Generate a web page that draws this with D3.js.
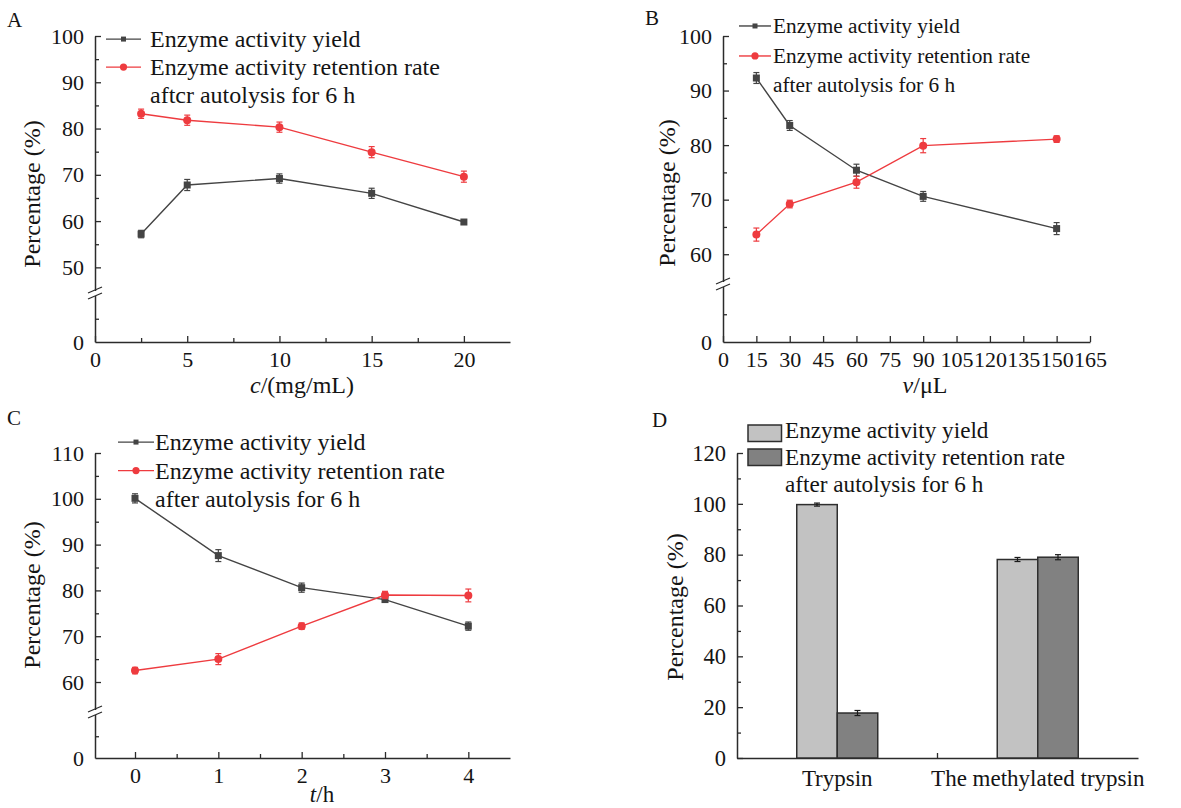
<!DOCTYPE html>
<html><head><meta charset="utf-8">
<script src="https://cdn.jsdelivr.net/npm/d3@7/dist/d3.min.js"></script>
<style>
body{margin:0;background:#fff}
text{font-family:"Liberation Serif","Times New Roman",serif;fill:#141414}
</style>
</head><body>
<svg id="chart" width="1181" height="808"></svg>
<script>
// ---------------- data ----------------
const seriesNames = ["Enzyme activity yield", "Enzyme activity retention rate"];

const aX = [2.5, 5, 10, 15, 20];
const aYield = [57.2, 67.8, 69.2, 66.0, 59.8];
const aYieldErr = [0.8, 1.2, 1.0, 1.1, 0.4];
const aRetention = [83.2, 81.8, 80.3, 74.9, 69.6];
const aRetentionErr = [1.0, 1.1, 1.1, 1.2, 1.2];

const bX = [15, 30, 60, 90, 150];
const bYield = [92.3, 83.6, 75.4, 70.6, 64.7];
const bYieldErr = [1.0, 0.9, 1.1, 0.9, 1.1];
const bRetention = [63.6, 69.2, 73.2, 79.9, 81.1];
const bRetentionErr = [1.2, 0.7, 1.1, 1.3, 0.6];

const cX = [0, 1, 2, 3, 4];
const cYield = [100.1, 87.6, 80.6, 78.0, 72.2];
const cYieldErr = [1.0, 1.3, 1.0, 0.5, 0.9];
const cRetention = [62.5, 65.0, 72.2, 79.0, 78.9];
const cRetentionErr = [0.7, 1.2, 0.7, 0.8, 1.4];

const dCategories = ["Trypsin", "The methylated trypsin"];
const dYield = [99.7, 78.1];
const dYieldErr = [0.6, 0.8];
const dRetention = [17.7, 79.0];
const dRetentionErr = [1.0, 1.0];

const aXTicks = [0, 5, 10, 15, 20];
const bXTicks = [0, 15, 30, 45, 60, 75, 90, 105, 120, 135, 150, 165];
const cXTicks = [0, 1, 2, 3, 4];
const aYTicks = [50, 60, 70, 80, 90, 100];
const bYTicks = [60, 70, 80, 90, 100];
const cYTicks = [60, 70, 80, 90, 100, 110];
const dYTicks = [0, 20, 40, 60, 80, 100, 120];

// ---------------- styles ----------------
const AXIS = "#2b2b2b";
const GRAY = "#444444";
const RED = "#ee3b3f";
const LIGHT = "#c2c2c2";
const DARK = "#818181";

const svg = d3.select("#chart");

function styleAxis(sel) {
  sel.selectAll(".domain").attr("stroke", AXIS).attr("stroke-width", 1.5);
  sel.selectAll(".tick line").attr("stroke", AXIS).attr("stroke-width", 1.3);
  sel.selectAll(".tick text").attr("fill", "#141414").attr("font-family", '"Liberation Serif",serif');
}

function linePanel(o) {
  const g = svg.append("g");
  const x = d3.scaleLinear().domain(o.xDomain).range([o.left, o.right]);
  const yU = d3.scaleLinear().domain(o.upperDomain).range([o.breakY - 2.5, o.top]);
  const yL = d3.scaleLinear().domain(o.lowerDomain).range([o.zeroY, o.breakY + 2.5]);
  const y = v => (v >= o.upperDomain[0] ? yU(v) : yL(v));

  // x axis
  const gx = g.append("g").attr("transform", `translate(0,${o.zeroY})`)
    .call(d3.axisBottom(x).tickValues(o.xTicks).tickSize(-6).tickSizeOuter(0).tickPadding(9).tickFormat(d3.format("d")));
  gx.selectAll("text").attr("font-size", o.tickFont || 22);
  styleAxis(gx);
  if (o.xMinor) {
    const gxm = g.append("g").attr("transform", `translate(0,${o.zeroY})`)
      .call(d3.axisBottom(x).tickValues(o.xMinor).tickSize(-4).tickFormat(""));
    gxm.select(".domain").remove();
    styleAxis(gxm);
  }

  // y axis upper
  const gyu = g.append("g").attr("transform", `translate(${o.left},0)`)
    .call(d3.axisLeft(yU).tickValues(o.yTicks).tickSize(-6).tickSizeOuter(0).tickPadding(11).tickFormat(d3.format("d")));
  gyu.selectAll("text").attr("font-size", o.tickFont || 22);
  styleAxis(gyu);
  const minorU = d3.range(o.yTicks[0] + 5, o.yTicks[o.yTicks.length - 1], 10);
  const gyum = g.append("g").attr("transform", `translate(${o.left},0)`)
    .call(d3.axisLeft(yU).tickValues(minorU).tickSize(-4).tickFormat(""));
  gyum.select(".domain").remove();
  styleAxis(gyum);

  // y axis lower
  const gyl = g.append("g").attr("transform", `translate(${o.left},0)`)
    .call(d3.axisLeft(yL).tickValues([0]).tickSize(0).tickSizeOuter(0).tickPadding(11).tickFormat(d3.format("d")));
  gyl.selectAll("text").attr("font-size", o.tickFont || 22);
  styleAxis(gyl);
  const gylm = g.append("g").attr("transform", `translate(${o.left},0)`)
    .call(d3.axisLeft(yL).tickValues([5]).tickSize(-4).tickFormat(""));
  gylm.select(".domain").remove();
  styleAxis(gylm);

  // break marks
  [-3, 3].forEach(dy => {
    g.append("line")
      .attr("x1", o.left - 7).attr("y1", o.breakY + dy + 3)
      .attr("x2", o.left + 7).attr("y2", o.breakY + dy - 3)
      .attr("stroke", AXIS).attr("stroke-width", 1.3);
  });

  // series
  const series = [
    { vals: o.yieldVals, errs: o.yieldErr, color: GRAY, marker: "square" },
    { vals: o.retVals, errs: o.retErr, color: RED, marker: "circle" }
  ];
  series.forEach(s => {
    const pts = o.xs.map((xv, i) => ({ x: xv, y: s.vals[i], e: s.errs[i] }));
    g.append("path").datum(pts)
      .attr("fill", "none").attr("stroke", s.color).attr("stroke-width", 1.4)
      .attr("d", d3.line().x(d => x(d.x)).y(d => y(d.y)));
    const eg = g.append("g").attr("stroke", s.color).attr("stroke-width", 1.2);
    pts.forEach(d => {
      eg.append("line").attr("x1", x(d.x)).attr("x2", x(d.x)).attr("y1", y(d.y - d.e)).attr("y2", y(d.y + d.e));
      eg.append("line").attr("x1", x(d.x) - 3).attr("x2", x(d.x) + 3).attr("y1", y(d.y - d.e)).attr("y2", y(d.y - d.e));
      eg.append("line").attr("x1", x(d.x) - 3).attr("x2", x(d.x) + 3).attr("y1", y(d.y + d.e)).attr("y2", y(d.y + d.e));
    });
    if (s.marker === "square") {
      g.selectAll(null).data(pts).enter().append("rect")
        .attr("x", d => x(d.x) - 3.5).attr("y", d => y(d.y) - 3.5)
        .attr("width", 7).attr("height", 7).attr("fill", s.color);
    } else {
      g.selectAll(null).data(pts).enter().append("circle")
        .attr("cx", d => x(d.x)).attr("cy", d => y(d.y)).attr("r", 4).attr("fill", s.color);
    }
  });

  // legend
  const L = o.legend;
  const fs = L.fontSize;
  const rows = [
    { text: seriesNames[0], color: GRAY, marker: "square" },
    { text: seriesNames[1], color: RED, marker: "circle" },
    { text: L.third }
  ];
  rows.forEach((r, i) => {
    const b = L.baselines[i];
    g.append("text").attr("x", L.textX).attr("y", b).attr("font-size", fs).text(r.text);
    if (r.color) {
      const ly = b - 0.33 * fs;
      g.append("line").attr("x1", L.x1).attr("x2", L.x2).attr("y1", ly).attr("y2", ly)
        .attr("stroke", r.color).attr("stroke-width", 1.4);
      const mx = (L.x1 + L.x2) / 2;
      if (r.marker === "square") {
        g.append("rect").attr("x", mx - 2.5).attr("y", ly - 2.5).attr("width", 5).attr("height", 5).attr("fill", r.color);
      } else {
        g.append("circle").attr("cx", mx).attr("cy", ly).attr("r", 3.6).attr("fill", r.color);
      }
    }
  });

  // titles
  g.append("text").attr("transform", `translate(${o.yTitle[0]},${o.yTitle[1]}) rotate(-90)`)
    .attr("text-anchor", "middle").attr("dominant-baseline", "central").attr("font-size", 24).text("Percentage (%)");
  const xt = g.append("text").attr("x", o.xTitle[0]).attr("y", o.xTitle[1]).attr("text-anchor", "middle").attr("font-size", o.xTitleFont || 24);
  xt.append("tspan").attr("font-style", "italic").text(o.xTitleVar);
  xt.append("tspan").text(o.xTitleRest);
  g.append("text").attr("x", o.letter[0]).attr("y", o.letter[1]).attr("font-size", 21).text(o.letterText);
}

linePanel({
  left: 95, right: 510, zeroY: 342, top: 36, breakY: 293,
  xDomain: [0, 22.5], xTicks: aXTicks, xMinor: [2.5, 7.5, 12.5, 17.5],
  upperDomain: [45, 100], yTicks: aYTicks, lowerDomain: [0, 10],
  xs: aX, yieldVals: aYield, yieldErr: aYieldErr, retVals: aRetention, retErr: aRetentionErr,
  legend: { x1: 106, x2: 141, textX: 150, baselines: [47, 75, 103], fontSize: 24, third: "aftcr autolysis for 6 h" },
  yTitle: [32, 194], xTitle: [302, 393], xTitleVar: "c", xTitleRest: "/(mg/mL)",
  letter: [7, 27], letterText: "A"
});

linePanel({
  left: 723, right: 1090, zeroY: 342, top: 36, breakY: 284,
  xDomain: [0, 165], xTicks: bXTicks, xMinor: null,
  upperDomain: [55, 100], yTicks: bYTicks, lowerDomain: [0, 10],
  xs: bX, yieldVals: bYield, yieldErr: bYieldErr, retVals: bRetention, retErr: bRetentionErr,
  legend: { x1: 739, x2: 771, textX: 773, baselines: [33, 63, 92], fontSize: 21.3, third: "after autolysis for 6 h" },
  yTitle: [667, 193], xTitle: [925, 393], xTitleVar: "v", xTitleRest: "/μL",
  letter: [645, 25], letterText: "B"
});

linePanel({
  left: 95, right: 510, zeroY: 758, top: 453, breakY: 712,
  xDomain: [-0.48, 4.5], xTicks: cXTicks, xMinor: [0.5, 1.5, 2.5, 3.5],
  upperDomain: [54, 110], yTicks: cYTicks, lowerDomain: [0, 10],
  xs: cX, yieldVals: cYield, yieldErr: cYieldErr, retVals: cRetention, retErr: cRetentionErr,
  legend: { x1: 118, x2: 154, textX: 155, baselines: [450, 478.5, 507], fontSize: 24, third: "after autolysis for 6 h" },
  yTitle: [32, 595], xTitle: [322, 802], xTitleFont: 23, xTitleVar: "t", xTitleRest: "/h",
  letter: [7, 425], letterText: "C"
});

// ---------------- panel D (bars) ----------------
(function () {
  const g = svg.append("g");
  const left = 737, right = 1138, zeroY = 758, top = 453;
  const x = d3.scaleBand().domain(dCategories).range([left, right]).padding(0);
  const inner = d3.scaleBand().domain(seriesNames).range([-40.5, 40.5]).padding(0);
  const y = d3.scaleLinear().domain([0, 120]).range([zeroY, top]);

  const gy = g.append("g").attr("transform", `translate(${left},0)`)
    .call(d3.axisLeft(y).tickValues(dYTicks).tickSize(-6).tickSizeOuter(0).tickPadding(11));
  gy.selectAll("text").attr("font-size", 22.5);
  styleAxis(gy);
  const gym = g.append("g").attr("transform", `translate(${left},0)`)
    .call(d3.axisLeft(y).tickValues(d3.range(10, 120, 20)).tickSize(-4).tickFormat(""));
  gym.select(".domain").remove();
  styleAxis(gym);

  const gx = g.append("g").attr("transform", `translate(0,${zeroY})`)
    .call(d3.axisBottom(x).tickSize(0).tickSizeOuter(0).tickPadding(12));
  gx.selectAll("text").attr("font-size", 23).attr("dy", "0.71em");
  styleAxis(gx);
  g.append("line").attr("x1", x(dCategories[1])).attr("x2", x(dCategories[1]))
    .attr("y1", zeroY).attr("y2", zeroY - 5).attr("stroke", AXIS).attr("stroke-width", 1.3);

  const sets = [
    { name: seriesNames[0], vals: dYield, errs: dYieldErr, color: LIGHT },
    { name: seriesNames[1], vals: dRetention, errs: dRetentionErr, color: DARK }
  ];
  sets.forEach(s => {
    dCategories.forEach((c, i) => {
      const cx = x(c) + x.bandwidth() / 2 + inner(s.name);
      g.append("rect").attr("x", cx).attr("y", y(s.vals[i]))
        .attr("width", inner.bandwidth()).attr("height", zeroY - y(s.vals[i]))
        .attr("fill", s.color).attr("stroke", "#2e2e2e").attr("stroke-width", 1.5);
    });
  });
  sets.forEach(s => {
    dCategories.forEach((c, i) => {
      const mx = x(c) + x.bandwidth() / 2 + inner(s.name) + inner.bandwidth() / 2;
      const lo = y(s.vals[i] - s.errs[i]), hi = y(s.vals[i] + s.errs[i]);
      const eg = g.append("g").attr("stroke", "#1a1a1a").attr("stroke-width", 1.2);
      eg.append("line").attr("x1", mx).attr("x2", mx).attr("y1", lo).attr("y2", hi);
      eg.append("line").attr("x1", mx - 3).attr("x2", mx + 3).attr("y1", lo).attr("y2", lo);
      eg.append("line").attr("x1", mx - 3).attr("x2", mx + 3).attr("y1", hi).attr("y2", hi);
    });
  });

  // legend
  const legendRows = [
    { text: seriesNames[0], color: LIGHT, baseline: 437.5, box: 425 },
    { text: seriesNames[1], color: DARK, baseline: 464.5, box: 449 },
    { text: "after autolysis for 6 h", baseline: 492 }
  ];
  legendRows.forEach(r => {
    if (r.color) {
      g.append("rect").attr("x", 748).attr("y", r.box).attr("width", 33.5).attr("height", 16.5)
        .attr("fill", r.color).attr("stroke", "#2e2e2e").attr("stroke-width", 1.5);
    }
    g.append("text").attr("x", 785).attr("y", r.baseline).attr("font-size", 23.2).text(r.text);
  });

  g.append("text").attr("transform", `translate(675,607) rotate(-90)`)
    .attr("text-anchor", "middle").attr("dominant-baseline", "central").attr("font-size", 24).text("Percentage (%)");
  g.append("text").attr("x", 652).attr("y", 427).attr("font-size", 21).text("D");
})();
</script>
</body></html>
